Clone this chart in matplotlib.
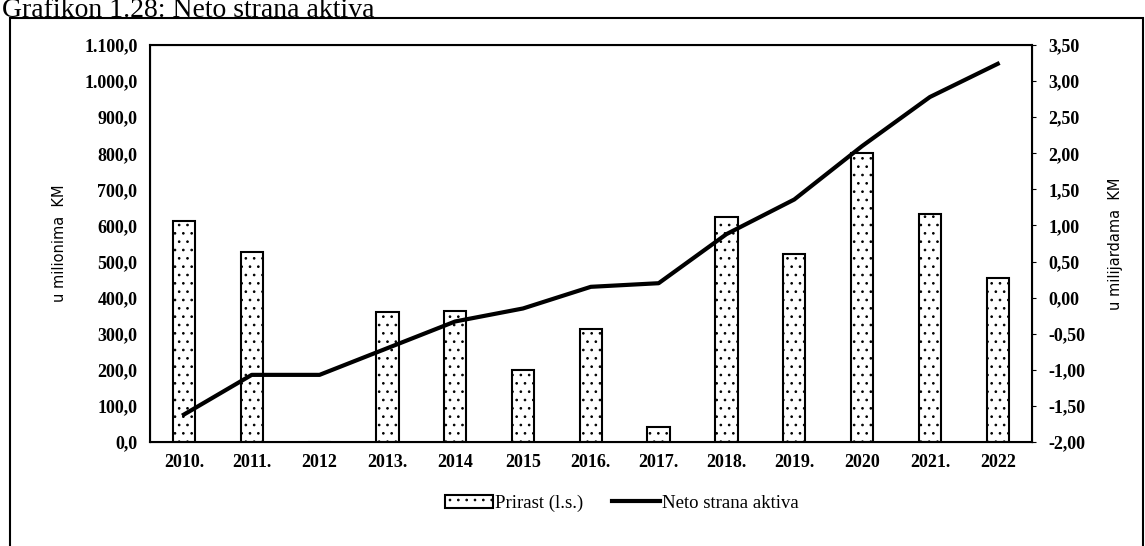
import matplotlib.pyplot as plt
from matplotlib.patches import Rectangle

# data
years = ['2010.', '2011.', '2012', '2013.', '2014', '2015', '2016.',
         '2017.', '2018.', '2019.', '2020', '2021.', '2022']
prirast = [612, 527, 0, 360, 363, 200, 313, 42, 623, 520, 802, 631, 454]
neto = [-1.62, -1.07, -1.07, -0.70, -0.33, -0.15, 0.15, 0.20, 0.88, 1.36, 2.10, 2.78, 3.24]
left_ticks = [0, 100, 200, 300, 400, 500, 600, 700, 800, 900, 1000, 1100]
left_labels = ['0,0', '100,0', '200,0', '300,0', '400,0', '500,0', '600,0',
               '700,0', '800,0', '900,0', '1.000,0', '1.100,0']
right_ticks = [-2, -1.5, -1, -0.5, 0, 0.5, 1, 1.5, 2, 2.5, 3, 3.5]
right_labels = ['-2,00', '-1,50', '-1,00', '-0,50', '0,00', '0,50', '1,00',
                '1,50', '2,00', '2,50', '3,00', '3,50']

serif = 'Liberation Serif'

fig = plt.figure(figsize=(11.45, 5.46), dpi=100)
ax = fig.add_axes([0.131, 0.1905, 0.770, 0.727])
x = list(range(len(years)))

plt.rcParams['hatch.linewidth'] = 0.7
ax.bar(x, prirast, width=0.33, color='white', edgecolor='black', linewidth=1.5,
       hatch='..', label='Prirast (l.s.)', zorder=2)
ax.set_xlim(-0.5, 12.5)
ax.set_ylim(0, 1100)
ax.set_yticks(left_ticks)
ax.set_yticklabels(left_labels, fontfamily=serif, fontsize=13, fontweight='bold')
ax.set_xticks(x)
ax.set_xticklabels(years, fontfamily=serif, fontsize=13, fontweight='bold')
ax.tick_params(axis='both', length=0, pad=9)
ax.set_ylabel('u milionima  KM', fontsize=10.5, labelpad=12)
for s in ax.spines.values():
    s.set_linewidth(1.5)

ax2 = ax.twinx()
ax2.plot(x, neto, color='black', linewidth=3, label='Neto strana aktiva', zorder=3)
ax2.set_ylim(-2, 3.5)
ax2.set_yticks(right_ticks)
ax2.set_yticklabels(right_labels, fontfamily=serif, fontsize=13, fontweight='bold')
ax2.tick_params(axis='y', length=3, pad=9)
ax2.set_ylabel('u milijardama  KM', fontsize=10.5, labelpad=16)

h1, l1 = ax.get_legend_handles_labels()
h2, l2 = ax2.get_legend_handles_labels()
fig.legend(h1 + h2, l1 + l2, loc='center', bbox_to_anchor=(0.543, 0.078), ncol=2,
           frameon=False, prop={'family': serif, 'size': 13.5},
           handlelength=2.6, handletextpad=0.1, columnspacing=1.5)

# outer frame and title
fig.patches.append(Rectangle((0.009, -0.01), 0.989, 0.977, transform=fig.transFigure,
                             fill=False, edgecolor='black', linewidth=1.5))
fig.text(0.002, 0.969, 'Grafikon 1.28: Neto strana aktiva', fontfamily=serif,
         fontsize=20, va='baseline', ha='left')

fig.savefig('out.png', dpi=100)
